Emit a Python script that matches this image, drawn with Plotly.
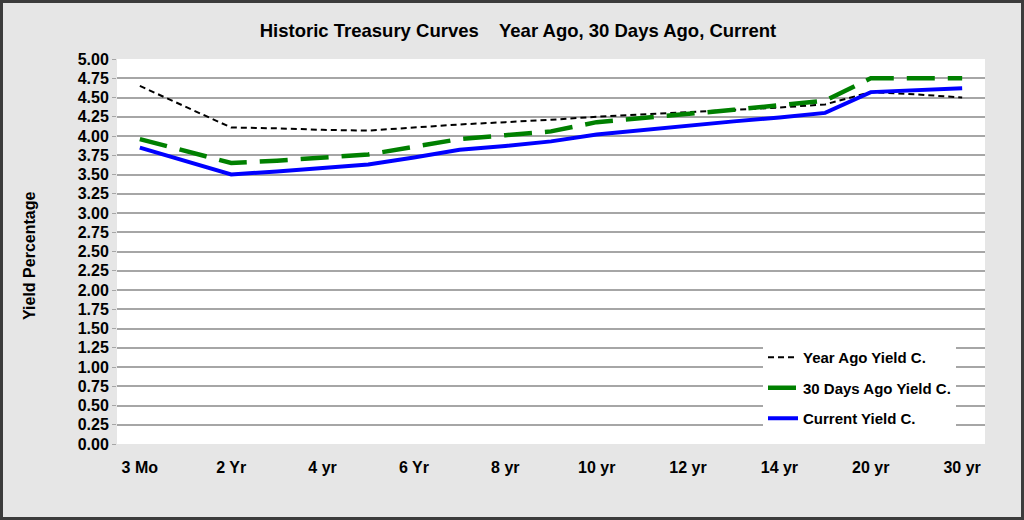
import plotly.graph_objects as go

categories = ["3 Mo", "1 Yr", "2 Yr", "3 yr", "4 yr", "5 yr", "6 Yr", "7 yr", "8 yr", "9 yr",
              "10 yr", "11 yr", "12 yr", "13 yr", "14 yr", "15 yr", "20 yr", "25 yr", "30 yr"]
tick_labels = ["3 Mo", "2 Yr", "4 yr", "6 Yr", "8 yr", "10 yr", "12 yr", "14 yr", "20 yr", "30 yr"]

year_ago = [4.65, 4.38, 4.11, 4.10, 4.08, 4.07, 4.11, 4.15, 4.18, 4.21,
            4.25, 4.28, 4.31, 4.34, 4.37, 4.41, 4.57, 4.54, 4.50]
days30_ago = [3.96, 3.80, 3.65, 3.68, 3.72, 3.76, 3.86, 3.96, 4.01, 4.06,
              4.18, 4.23, 4.28, 4.34, 4.40, 4.46, 4.75, 4.75, 4.75]
current = [3.85, 3.68, 3.50, 3.54, 3.58, 3.63, 3.72, 3.82, 3.87, 3.93,
           4.02, 4.08, 4.13, 4.19, 4.24, 4.30, 4.57, 4.60, 4.62]

W, H = 1024, 520
L, R, T, B = 117, 39, 59, 76
PW, PH = W - L - R, H - T - B

FONT = "Arial, Liberation Sans, sans-serif"

fig = go.Figure()
fig.add_trace(go.Scatter(x=categories, y=year_ago, mode="lines", name="Year Ago Yield C.",
                         legendgroup="a",
                         line=dict(color="#000000", width=2, dash="6px,4px")))
fig.add_trace(go.Scatter(x=categories, y=days30_ago, mode="lines", name="30 Days Ago Yield C.",
                         legendgroup="b",
                         line=dict(color="#008000", width=4.5, dash="28px,13px")))
fig.add_trace(go.Scatter(x=categories, y=current, mode="lines", name="Current Yield C.",
                         legendgroup="c",
                         line=dict(color="#0000ff", width=4)))

fig.update_layout(
    width=W, height=H,
    margin=dict(l=L, r=R, t=T, b=B),
    paper_bgcolor="#e6e6e6",
    plot_bgcolor="#ffffff",
    font=dict(family=FONT, size=15, color="#000000"),
    title=dict(text="Historic Treasury Curves    Year Ago, 30 Days Ago, Current",
               x=518 / W, xref="container", xanchor="center",
               y=1 - 31 / H, yref="container", yanchor="middle",
               font=dict(family=FONT, size=18.5, color="#000000", weight="bold")),
    showlegend=True,
    legend=dict(x=(763 - L) / PW, xanchor="left", y=(H - B - 341) / PH, yanchor="top",
                bgcolor="#ffffff", borderwidth=0,
                traceorder="grouped", tracegroupgap=8,
                font=dict(family=FONT, size=15, weight="bold")),
    xaxis=dict(type="category", categoryorder="array", categoryarray=categories,
               range=[-0.5, len(categories) - 0.5],
               tickmode="array", tickvals=tick_labels, ticktext=tick_labels,
               showgrid=False, zeroline=False,
               showline=False, ticks="", ticklabelstandoff=12,
               tickfont=dict(family=FONT, size=16, weight="bold")),
    yaxis=dict(range=[0, 5], dtick=0.25, tickformat=".2f",
               showgrid=True, gridcolor="#a6a6a6", gridwidth=1.5,
               zeroline=False, showline=False,
               ticks="outside", ticklen=4, tickcolor="#a6a6a6",
               tickfont=dict(family=FONT, size=16, weight="bold")),
)

fig.add_annotation(text="Yield Percentage", textangle=-90,
                   xref="paper", yref="paper",
                   x=(29 - L) / PW, y=(H - B - 256) / PH,
                   xanchor="center", yanchor="middle", showarrow=False,
                   font=dict(family=FONT, size=16, weight="bold"))

# outer dark frame around the whole image
fig.add_shape(type="rect", xref="paper", yref="paper",
              x0=-L / PW, x1=(W - L) / PW, y0=-B / PH, y1=(H - B) / PH,
              line=dict(color="#3c3c3c", width=6), fillcolor="rgba(0,0,0,0)", layer="above")

fig.write_html("out.html", config={"displayModeBar": False},
               post_script="document.body.style.margin='0';document.body.style.padding='0';")
